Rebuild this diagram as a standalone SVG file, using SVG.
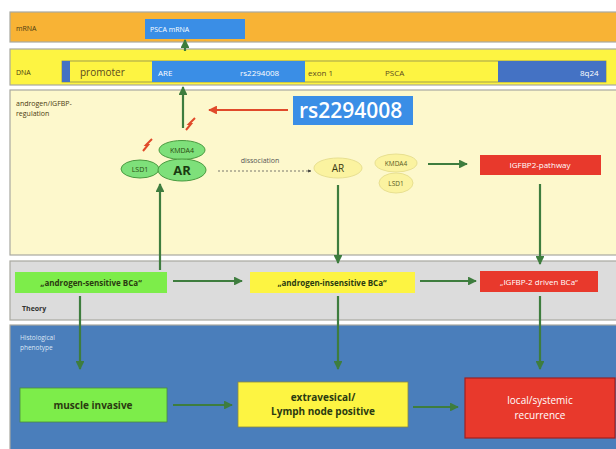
<svg xmlns="http://www.w3.org/2000/svg" width="616" height="449" viewBox="0 0 616 449">
<defs>
<style>
text{font-family:"Open Sans","Liberation Sans",sans-serif}
.band{stroke:#a8a8a0;stroke-width:1.2}
.lbl{font-size:7px;fill:#4a3a10}
.g{stroke:#3e7d3e;stroke-width:2.2;fill:none}
.gd{stroke:#555;stroke-width:0.8;stroke-dasharray:2 2;fill:none}
.r{stroke:#e04a2a;stroke-width:2.2;fill:none}
.wt{fill:#fff}
.bd{font-weight:bold;fill:#2a3a10}
</style>
<marker id="ag" viewBox="0 0 10 10" refX="9" refY="5" markerWidth="4" markerHeight="4" orient="auto"><path d="M0,0L10,5L0,10z" fill="#3e7d3e"/></marker>
<marker id="ar" viewBox="0 0 10 10" refX="9" refY="5" markerWidth="4" markerHeight="4" orient="auto"><path d="M0,0L10,5L0,10z" fill="#e04a2a"/></marker>
<marker id="ak" viewBox="0 0 10 10" refX="9" refY="5" markerWidth="4" markerHeight="4" orient="auto"><path d="M0,0L10,5L0,10z" fill="#333"/></marker>
</defs>
<rect width="616" height="449" fill="#fff"/>

<g id="band-mrna">
<rect class="band" x="10" y="12" width="610" height="30" fill="#f8b335"/>
<text class="lbl" x="16" y="31">mRNA</text>
</g>
<g id="band-dna">
<rect class="band" x="10" y="49" width="610" height="36" fill="#fdf442"/>
<text class="lbl" x="16" y="75">DNA</text>
</g>
<g id="band-regulation">
<rect class="band" x="10" y="90" width="610" height="165" fill="#fdf8cc"/>
<text class="lbl" x="16" y="106">androgen/IGFBP-</text>
<text class="lbl" x="16" y="116">regulation</text>
</g>
<g id="band-theory">
<rect class="band" x="10" y="261" width="610" height="59" fill="#dcdcdc"/>
<text x="22" y="311" font-size="7" font-weight="bold" fill="#333">Theory</text>
</g>
<g id="band-histo">
<rect class="band" x="10" y="325" width="610" height="130" fill="#4a7ebb"/>
<text x="20" y="340" font-size="6.5" fill="#dde6f5">Histological</text>
<text x="20" y="350" font-size="6.5" fill="#dde6f5">phenotype</text>
</g>

<g id="gene-bar">
<rect x="62" y="61" width="544" height="21" fill="#fdf442" stroke="#8a8a50" stroke-width="0.8"/>
<rect x="62" y="61" width="8" height="21" fill="#4472c4"/>
<rect x="152" y="61" width="153" height="21" fill="#3a8ee6"/>
<rect x="498" y="61" width="108" height="21" fill="#4472c4"/>
<text x="80" y="76" font-size="10" fill="#5a4a20">promoter</text>
<text x="158" y="76" font-size="8" class="wt">ARE</text>
<text x="240" y="76" font-size="8" class="wt">rs2294008</text>
<text x="308" y="76" font-size="8" fill="#5a4a20">exon 1</text>
<text x="385" y="76" font-size="8" fill="#5a4a20">PSCA</text>
<text x="580" y="76" font-size="8" class="wt">8q24</text>
</g>

<g id="psca-mrna">
<rect x="145" y="19" width="100" height="20" fill="#3a8ee6"/>
<text x="150" y="32" font-size="7" class="wt">PSCA mRNA</text>
</g>

<g id="rs-box">
<rect x="293" y="96" width="120" height="29" fill="#3a8ee6"/>
<text x="299" y="118" font-size="21" font-weight="600" class="wt">rs2294008</text>
</g>

<g id="complex">
<ellipse cx="182" cy="150" rx="23" ry="9.5" fill="#7ee07a" stroke="#4a9a40" stroke-width="1"/>
<text x="182" y="153" font-size="7" text-anchor="middle" fill="#2a4a10">KMDA4</text>
<ellipse cx="140" cy="169" rx="19" ry="9" fill="#7ee07a" stroke="#4a9a40" stroke-width="1"/>
<text x="140" y="172" font-size="7" text-anchor="middle" fill="#2a4a10">LSD1</text>
<ellipse cx="182" cy="170" rx="24" ry="11" fill="#7ee07a" stroke="#4a9a40" stroke-width="1"/>
<text x="182" y="175" font-size="13" font-weight="bold" text-anchor="middle" fill="#1a3a10">AR</text>
<path d="M186,130 L191,124 L189,124 L195,118" stroke="#e04a2a" stroke-width="2" fill="none"/>
<path d="M143,151 L148,145 L146,145 L152,139" stroke="#e04a2a" stroke-width="2" fill="none"/>
</g>

<g id="dissociated">
<ellipse cx="338" cy="168" rx="24" ry="10" fill="#fbf3a0" stroke="#e8e090" stroke-width="1"/>
<text x="338" y="172" font-size="10" text-anchor="middle" fill="#3a3a10">AR</text>
<ellipse cx="396" cy="163" rx="21" ry="9" fill="#fbf3a0" stroke="#e8e090" stroke-width="1"/>
<text x="396" y="166" font-size="6.5" text-anchor="middle" fill="#5a5a20">KMDA4</text>
<ellipse cx="396" cy="183" rx="17" ry="10" fill="#fbf3a0" stroke="#e8e090" stroke-width="1"/>
<text x="396" y="186" font-size="6.5" text-anchor="middle" fill="#5a5a20">LSD1</text>
<text x="260" y="163" font-size="7" text-anchor="middle" fill="#555">dissociation</text>
</g>

<g id="igfbp2-pathway">
<rect x="480" y="155" width="121" height="20" fill="#e8392c"/>
<text x="540" y="168" font-size="8" text-anchor="middle" class="wt">IGFBP2-pathway</text>
</g>

<g id="sensitive">
<rect x="15" y="272" width="152" height="21" fill="#7ded4a"/>
<text x="91" y="286" font-size="8" text-anchor="middle" class="bd">„androgen-sensitive BCa“</text>
</g>
<g id="insensitive">
<rect x="250" y="272" width="165" height="21" fill="#fdf442"/>
<text x="332" y="286" font-size="8" text-anchor="middle" class="bd">„androgen-insensitive BCa“</text>
</g>
<g id="igfbp2-driven">
<rect x="480" y="271" width="118" height="21" fill="#e8392c"/>
<text x="539" y="285" font-size="8" text-anchor="middle" class="wt">„IGFBP-2 driven BCa“</text>
</g>

<g id="muscle-invasive">
<rect x="20" y="388" width="147" height="34" fill="#7ded4a" stroke="#4a8a40" stroke-width="0.8"/>
<text x="93" y="409" font-size="10" text-anchor="middle" class="bd">muscle invasive</text>
</g>
<g id="extravesical">
<rect x="238" y="382" width="170" height="45" fill="#fdf442" stroke="#8a8a40" stroke-width="0.8"/>
<text x="323" y="401" font-size="10" text-anchor="middle" class="bd">extravesical/</text>
<text x="323" y="415" font-size="10" text-anchor="middle" class="bd">Lymph node positive</text>
</g>
<g id="recurrence">
<rect x="465" y="378" width="150" height="60" fill="#e8392c" stroke="#a02020" stroke-width="1.2"/>
<text x="540" y="404" font-size="10" text-anchor="middle" class="wt">local/systemic</text>
<text x="540" y="419" font-size="10" text-anchor="middle" class="wt">recurrence</text>
</g>

<g id="connectors">
<line class="g" x1="185" y1="51" x2="185" y2="40" marker-end="url(#ag)"/>
<line class="g" x1="183" y1="128" x2="183" y2="87" marker-end="url(#ag)"/>
<line class="r" x1="288" y1="110" x2="209" y2="110" marker-end="url(#ar)"/>
<line class="g" x1="160" y1="270" x2="160" y2="184" marker-end="url(#ag)"/>
<line class="gd" x1="218" y1="171" x2="311" y2="171" marker-end="url(#ak)"/>
<line class="g" x1="428" y1="164" x2="467" y2="164" marker-end="url(#ag)"/>
<line class="g" x1="338" y1="185" x2="338" y2="263" marker-end="url(#ag)"/>
<line class="g" x1="540" y1="184" x2="540" y2="264" marker-end="url(#ag)"/>
<line class="g" x1="173" y1="281" x2="242" y2="281" marker-end="url(#ag)"/>
<line class="g" x1="420" y1="281" x2="476" y2="281" marker-end="url(#ag)"/>
<line class="g" x1="80" y1="296" x2="80" y2="369" marker-end="url(#ag)"/>
<line class="g" x1="338" y1="296" x2="338" y2="369" marker-end="url(#ag)"/>
<line class="g" x1="540" y1="296" x2="540" y2="369" marker-end="url(#ag)"/>
<line class="g" x1="173" y1="405" x2="232" y2="405" marker-end="url(#ag)"/>
<line class="g" x1="413" y1="407" x2="458" y2="407" marker-end="url(#ag)"/>
</g>
</svg>
